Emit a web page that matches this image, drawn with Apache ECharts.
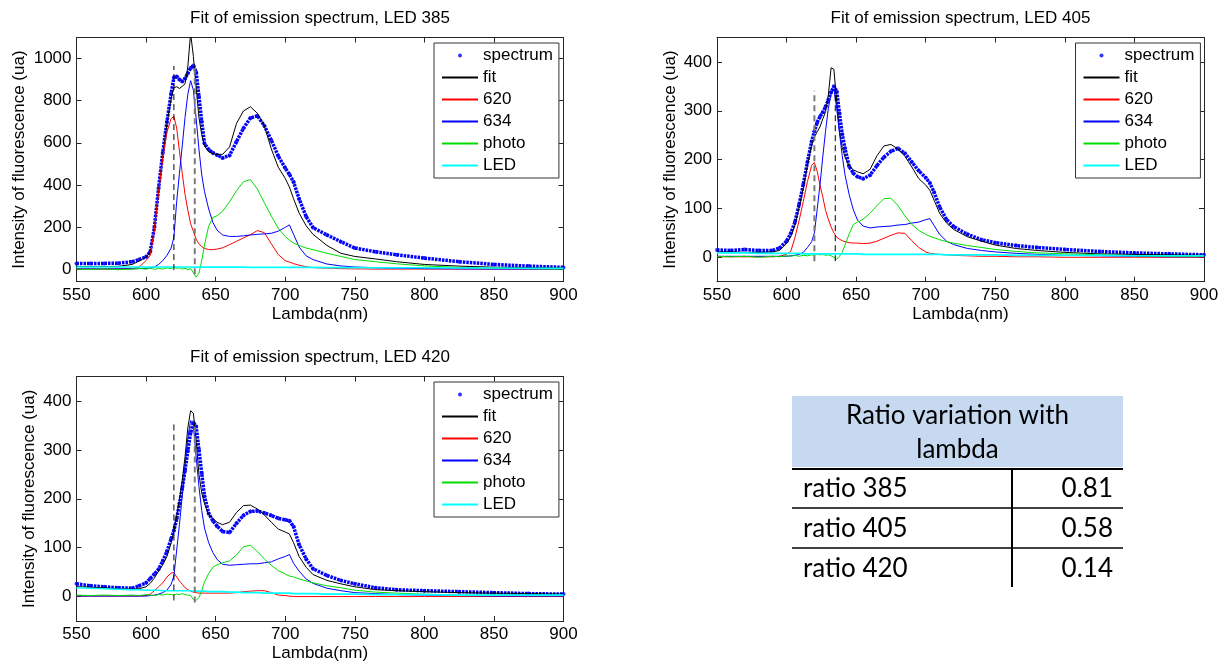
<!DOCTYPE html>
<html>
<head>
<meta charset="utf-8">
<script src="https://cdn.jsdelivr.net/npm/echarts@6/dist/echarts.min.js"></script>
<style>html,body{margin:0;padding:0;background:#fff}#c{width:1224px;height:664px}</style>
</head>
<body>
<div id="c"></div>
<script>
// ---------------- data ----------------
const lambda = [550,560,570,580,590,595,600,603,606,609,612,615,618,620,622,624,626,628,630,632,634,636,638,640,642,645,648,651,655,660,665,670,675,680,685,690,695,700,703,706,710,715,720,730,740,750,765,780,800,825,850,875,900];

const spectrum385 = [27,26,27,28,35,45,58,82,200,385, 554,700,833,910,915,900,891,905,930,955, 967,935,820,701,596,568,552,542,528,540, 605,669,718,728,681,612,537,480,450,414, 333,250,197,162,130,100,82,68,52,35, 22,14,8];
const fit385 = [12,12,12,13,22,38,58,80,190,370, 540,690,810,862,866,858,868,880,960,1120, 1010,860,720,638,585,557,548,545,545,580, 692,751,771,740,680,571,484,431,390,334, 266,206,165,112,75,60,48,35,22,14, 9,6,5];
const c620_385 = [0,0,0,1,3,10,40,65,190,365, 530,650,715,725,670,560,455,355,280,216, 179,142,120,106,98,93,92,95,101,116, 132,148,163,183,173,120,69,40,33,26, 18,11,7,4,2,1,0,0,0,0, 0,0,0];
const c634_385 = [1,1,1,1,1,2,3,5,10,22, 40,65,100,150,321,455,585,720,830,895, 850,715,570,448,368,285,222,185,162,155, 155,158,162,165,167,170,180,198,210,165, 105,63,45,24,15,10,6,4,2,1, 0,0,0];
const photo385 = [0,-2,1,-3,0,3,0,4,-1,3, 0,6,2,9,3,6,0,4,-3,2, -18,-38,-20,40,115,204,245,253,275,320, 372,415,425,380,315,252,194,155,138,124, 112,100,92,75,60,45,35,25,15,8, 4,2,0];
const led385 = [10,10,10,10,10,10,10,10,10,10, 10,10,10,10,10,10,10,10,10,10, 9,9,9,9,9,9,9,9,9,9, 9,9,8,8,8,8,8,8,8,8, 8,8,8,7,7,7,6,6,6,5, 5,4,4];

const spectrum405 = [15,14,16,14,14,19,33,49,72,108, 149,195,237,258,276,288,297,308,322,338, 350,340,295,252,223,186,172,165,161,168, 188,205,217,223,213,195,177,163,152,133, 103,77,63,47,36,30,24,20,16,12, 9,7,5];
const fit405 = [11,11,10,10,11,14,28,42,66,102, 142,188,230,246,257,267,283,298,332,388, 385,320,258,225,205,187,179,175,171,180, 208,228,231,222,207,185,161,148,137,117, 90,70,57,42,33,25,18,14,10,7, 6,5,4];
const c620_405 = [1,1,1,1,1,2,6,12,40,75, 114,155,188,194,176,148,124,96,78,62, 50,41,37,34,32,30,29,29,28,29, 33,39,45,50,49,34,20,11,8,7, 6,5,4,3,2,2,1,1,0,0, 0,0,0];
const c634_405 = [2,2,2,2,2,2,2,3,4,6, 10,20,32,50,98,148,205,258,305,335, 345,305,255,208,169,128,97,76,64,60, 62,63,64,66,67,70,72,77,79,65, 47,33,26,18,14,11,8,6,4,3, 2,1,1];
const photo405 = [2,1,2,0,2,1,3,2,4,2, 4,3,5,4,6,5,6,4,5,3, 0,-4,2,10,25,48,67,72,78,90, 106,120,121,106,85,67,55,47,43,40, 36,32,29,24,20,16,12,9,7,5, 3,2,2];
const led405 = [9,9,9,8,8,8,8,8,8,8, 7,7,7,7,7,7,7,7,7,7, 7,7,7,7,7,7,7,7,6,6, 6,6,6,6,6,6,6,6,6,6, 6,5,5,5,5,5,4,4,4,4, 3,3,3];

const spectrum420 = [26,22,20,18,17,22,28,37,46,56, 73,92,118,135,159,190,222,258,298,335, 356,348,300,252,205,170,155,144,133,131, 150,166,174,175,171,166,160,157,155,143, 106,77,57,43,33,26,18,14,12,10, 8,6,5];
const fit420 = [20,19,18,16,15,16,20,27,38,52, 65,82,110,133,165,198,238,286,345,380, 375,318,250,212,190,167,160,152,147,152, 172,186,187,179,167,152,138,132,128,110, 82,60,45,33,26,20,14,12,10,8, 7,6,5];
const c620_420 = [1,1,1,1,1,1,2,5,12,20, 28,40,48,49,40,32,25,18,14,11, 9,8,7,7,7,7,7,7,7,7, 8,10,11,12,12,8,3,2,1,0, 0,0,0,0,0,0,0,0,0,0, 0,0,0];
const c634_420 = [1,1,1,1,1,1,1,2,3,5, 8,13,25,42,95,148,205,265,325,360, 350,285,225,176,140,110,90,76,66,64, 65,66,67,67,69,71,77,82,86,68, 52,36,27,17,12,8,6,4,3,2, 1,1,1];
const photo420 = [3,2,3,2,3,2,4,3,2,4, 3,5,4,3,5,4,6,4,3,2, -6,-8,-2,12,30,47,60,65,69,73, 85,102,105,92,77,64,53,46,42,40, 36,32,28,22,18,13,9,7,5,3, 3,2,2];
const led420 = [18,17,16,15,14,14,13,13,13,13, 12,12,12,12,12,12,12,12,12,12, 11,11,11,11,11,10,10,10,10,9, 9,8,8,8,7,7,7,7,7,6, 6,6,6,5,5,5,4,4,4,3, 3,3,3];

// vertical reference markers: [lambda, low, high]
const markers385 = [[620,-5,965],[635,-25,970]];
const markers405 = [[620,-8,341],[635,-8,346]];
const markers420 = [[620,-8,352],[635,-12,351]];

const titles = ['Fit of emission spectrum, LED 385','Fit of emission spectrum, LED 405','Fit of emission spectrum, LED 420'];
const xRange = [550, 900];
const xTickStep = 50;
const yRange385 = [-60, 1100];
const yRange405 = [-50, 450];
const yRange420 = [-50, 450];
const yTicks385 = [0,200,400,600,800,1000];
const yTicks405 = [0,100,200,300,400];
const yTicks420 = [0,100,200,300,400];
const legendNames = ['spectrum','fit','620','634','photo','LED'];
const xName = 'Lambda(nm)';
const yName = 'Intensity of fluorescence (ua)';

const tableHeader = ['Ratio variation with','lambda'];
const ratioLabels = ['ratio 385','ratio 405','ratio 420'];
const ratioValues = [0.81, 0.58, 0.14];

// ---------------- layout / style ----------------
const FONT = '"Liberation Sans", Arial, Helvetica, sans-serif';
const TFONT = 'Lato, "Open Sans", sans-serif';
const AX = '#262626';
const COLORS = {spectrum:'#0000ff', fit:'#000000', '620':'#ff0000', '634':'#0000ff', photo:'#00dd00', LED:'#00ffff'};

const panels = [
  {title:titles[0], rect:[76.5,37.5,487,244.2], yr:yRange385, yt:yTicks385, nameGap:49, lg:[434,43],
   d:{spectrum:spectrum385, fit:fit385, '620':c620_385, '634':c634_385, photo:photo385, LED:led385}, mk:markers385, gray:1},
  {title:titles[1], rect:[717,37.5,487,244.2], yr:yRange405, yt:yTicks405, nameGap:38, lg:[1075.5,43],
   d:{spectrum:spectrum405, fit:fit405, '620':c620_405, '634':c634_405, photo:photo405, LED:led405}, mk:markers405, gray:0},
  {title:titles[2], rect:[76.5,376.5,487,244.5], yr:yRange420, yt:yTicks420, nameGap:39, lg:[434,382],
   d:{spectrum:spectrum420, fit:fit420, '620':c620_420, '634':c634_420, photo:photo420, LED:led420}, mk:markers420, gray:1}
];

const zip = ys => lambda.map((x,i)=>[x, ys[i]]);
const plain = v => String(v);
const grids=[], xB=[], xT=[], yL=[], yR=[], series=[], legends=[], graphics=[];
const lblStyle = {color:'#000', fontSize:17, fontFamily:FONT};

panels.forEach((p,i)=>{
  const [l,t,w,h] = p.rect;
  grids.push({left:l, top:t, width:w, height:h, containLabel:false, outerBoundsMode:'none'});
  xB.push({type:'value', gridIndex:i, position:'bottom', min:xRange[0], max:xRange[1], interval:xTickStep,
    axisLine:{show:true, onZero:false, lineStyle:{color:AX, width:1}},
    axisTick:{show:true, inside:true, length:5, lineStyle:{color:AX}},
    axisLabel:Object.assign({margin:5, formatter:plain}, lblStyle), splitLine:{show:false},
    name:xName, nameLocation:'middle', nameGap:24, nameTextStyle:lblStyle});
  xT.push({type:'value', gridIndex:i, position:'top', min:xRange[0], max:xRange[1], interval:xTickStep,
    axisLine:{show:true, onZero:false, lineStyle:{color:AX, width:1}},
    axisTick:{show:true, inside:true, length:5, lineStyle:{color:AX}},
    axisLabel:{show:false}, splitLine:{show:false}});
  yL.push({type:'value', gridIndex:i, position:'left', min:p.yr[0], max:p.yr[1],
    axisLine:{show:true, onZero:false, lineStyle:{color:AX, width:1}},
    axisTick:{show:true, inside:true, length:5, customValues:p.yt, lineStyle:{color:AX}},
    axisLabel:Object.assign({margin:5, customValues:p.yt, formatter:plain}, lblStyle), splitLine:{show:false},
    name:yName, nameLocation:'middle', nameRotate:90, nameGap:p.nameGap, nameTextStyle:lblStyle});
  yR.push({type:'value', gridIndex:i, position:'right', min:p.yr[0], max:p.yr[1],
    axisLine:{show:true, onZero:false, lineStyle:{color:AX, width:1}},
    axisTick:{show:true, inside:true, length:5, customValues:p.yt, lineStyle:{color:AX}},
    axisLabel:{show:false, customValues:p.yt}, splitLine:{show:false}});

  // spectrum: dense dotted trace + markers
  series.push({type:'line', name:'_trace', xAxisIndex:i, yAxisIndex:i, data:zip(p.d.spectrum), symbol:'none',
    lineStyle:{color:COLORS.spectrum, width:3.5, type:[2.5,1]}, silent:true, z:2});
  series.push({type:'scatter', name:'spectrum', xAxisIndex:i, yAxisIndex:i, data:zip(p.d.spectrum), symbol:'circle',
    symbolSize:4, itemStyle:{color:COLORS.spectrum}, silent:true, z:2});
  ['fit','620','634','photo','LED'].forEach(k=>{
    series.push({type:'line', name:k, xAxisIndex:i, yAxisIndex:i, data:zip(p.d[k]), symbol:'none',
      lineStyle:{color:COLORS[k], width:(k==='LED'?1.6:1)}, itemStyle:{color:COLORS[k]}, silent:true, z:3});
  });
  p.mk.forEach((m,j)=>{
    const g = (j===p.gray);
    series.push({type:'line', name:'_marker', xAxisIndex:i, yAxisIndex:i, data:[[m[0],m[1]],[m[0],m[2]]], symbol:'none',
      lineStyle:{color:g?'#7a7a7a':'#000', width:g?2:1, type:[6,4]}, silent:true, z:4});
  });

  legends.push({left:p.lg[0], top:p.lg[1], orient:'vertical', itemWidth:36, itemHeight:4, itemGap:5,
    padding:[4,6,4,7], borderColor:'#333', borderWidth:1, backgroundColor:'#fff', selectedMode:false,
    textStyle:{fontSize:17, fontFamily:FONT, color:'#000'},
    data:legendNames.map(n => n==='spectrum' ? {name:n, icon:'circle'} : {name:n, itemStyle:{opacity:0}})});

  graphics.push({type:'text', x:l+w/2, y:t-19, silent:true,
    style:{text:p.title, fill:'#000', font:'17px '+FONT, align:'center', verticalAlign:'middle', textAlign:'center', textVerticalAlign:'middle'}});
});

// ---------------- table ----------------
const TX0 = 792, TX1 = 1123, TDIV = 1012;
graphics.push({type:'rect', shape:{x:TX0, y:396, width:TX1-TX0, height:71}, style:{fill:'#c6d9f1'}, silent:true});
tableHeader.forEach((s,k)=>graphics.push({type:'text', x:(TX0+TX1)/2, y:416+34*k, silent:true,
  style:{text:s, fill:'#000', font:'26px '+TFONT, align:'center', verticalAlign:'middle', textAlign:'center', textVerticalAlign:'middle'}}));
graphics.push({type:'line', shape:{x1:TX0, y1:469, x2:TX1, y2:469}, style:{stroke:'#000', lineWidth:2}, silent:true});
graphics.push({type:'line', shape:{x1:TX0, y1:508, x2:TX1, y2:508}, style:{stroke:'#000', lineWidth:1.5}, silent:true});
graphics.push({type:'line', shape:{x1:TX0, y1:548, x2:TX1, y2:548}, style:{stroke:'#000', lineWidth:1.5}, silent:true});
graphics.push({type:'line', shape:{x1:TDIV, y1:469, x2:TDIV, y2:587}, style:{stroke:'#000', lineWidth:2}, silent:true});
const rowY = [488.5, 529, 569];
ratioLabels.forEach((s,k)=>{
  graphics.push({type:'text', x:803, y:rowY[k], silent:true,
    style:{text:s, fill:'#000', font:'26px '+TFONT, align:'left', verticalAlign:'middle', textAlign:'left', textVerticalAlign:'middle'}});
  graphics.push({type:'text', x:1113, y:rowY[k], silent:true,
    style:{text:ratioValues[k].toFixed(2), fill:'#000', font:'26px '+TFONT, align:'right', verticalAlign:'middle', textAlign:'right', textVerticalAlign:'middle'}});
});

const chart = echarts.init(document.getElementById('c'), null, {renderer:'canvas', width:1224, height:664});
chart.setOption({
  backgroundColor:'#fff',
  animation:false,
  grid:grids,
  xAxis:xB.concat(xT),
  yAxis:yL.concat(yR),
  legend:legends,
  series:series,
  graphic:graphics
});
</script>
</body>
</html>
